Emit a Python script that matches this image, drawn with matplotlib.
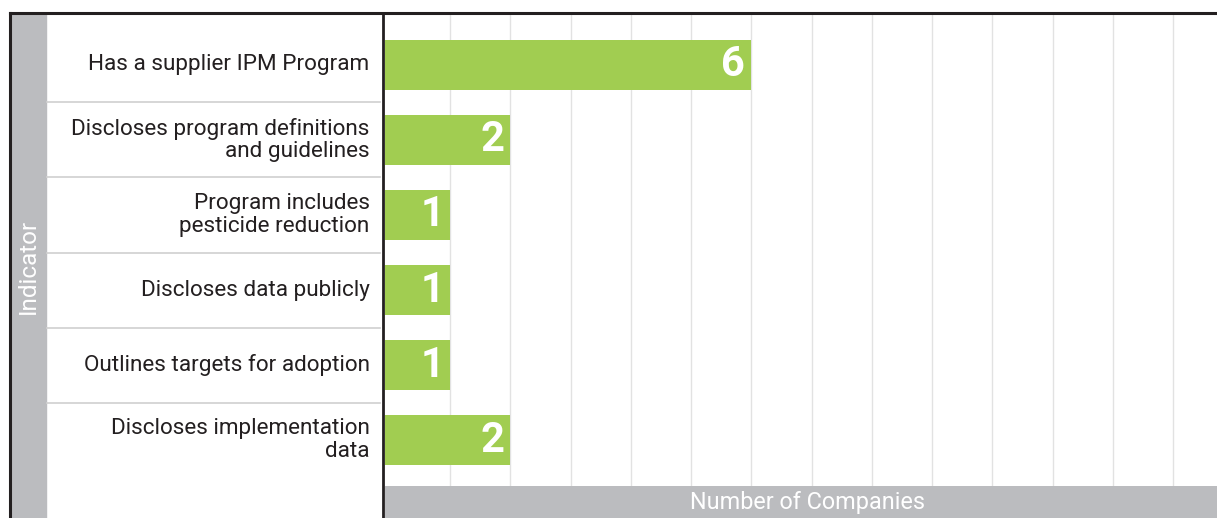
import matplotlib.pyplot as plt
from matplotlib.lines import Line2D
from matplotlib.patches import Rectangle

# data
indicators = ["Has a supplier IPM Program",
              "Discloses program definitions\nand guidelines",
              "Program includes\npesticide reduction",
              "Discloses data publicly",
              "Outlines targets for adoption",
              "Discloses implementation\ndata"]
companies = [6, 2, 1, 1, 1, 2]

green = "#A1CD51"
grey = "#BBBCBF"
dark = "#231F20"

W, H = 1217, 518
fig = plt.figure(figsize=(W / 100, H / 100), dpi=100)
plt.rcParams['font.family'] = ['Roboto', 'DejaVu Sans']

top_px, bot_px = 13, 486
ylim = (5.613, -0.693)
xmin = -0.08

#bars
ax = fig.add_axes([385 / W, (H - bot_px) / H, (W - 385) / W, (bot_px - top_px) / H])
ypos = range(len(indicators))
ax.barh(ypos, [c - xmin for c in companies], left=xmin, height=0.667, color=green, zorder=2)
for y, c in zip(ypos, companies):
    ax.text(c - 0.1, y, str(c), color="white", fontsize=30, fontweight="bold",
            ha="right", va="center", zorder=3)
ax.set_xlim(xmin, 13.73)
ax.set_ylim(*ylim)
for x in range(1, 14):
    ax.axvline(x, color="#E2E2E2", lw=1, zorder=1)
ax.set_xticks([])
ax.set_yticks([])
for s in ax.spines.values():
    s.set_visible(False)

#label panel
lab = fig.add_axes([46 / W, (H - bot_px) / H, (382 - 46) / W, (bot_px - top_px) / H])
lab.set_xlim(0, 1)
lab.set_ylim(*ylim)
for y, name in zip(ypos, indicators):
    lab.text(0.963, y, name, ha="right", va="center", fontsize=16.2,
             color=dark, linespacing=1.1)
for y in range(len(indicators) - 1):
    lab.axhline(y + 0.5, xmax=0.995, color="#CFCFCF", lw=1.2)
lab.axis("off")

# grey strips
fig.add_artist(Rectangle((11 / W, 0), 35 / W, (H - top_px) / H, color=grey, transform=fig.transFigure, zorder=0))
fig.add_artist(Rectangle((385 / W, 0), (W - 385) / W, (H - bot_px) / H, color=grey, transform=fig.transFigure, zorder=0))
fig.text(28 / W, 1 - 266 / H, "Indicator", rotation=90, color="white", fontsize=17.5,
         ha="center", va="center")
fig.text(807 / W, 1 - 503 / H, "Number of Companies", color="white", fontsize=16.8,
         ha="center", va="center")

# frame lines
fig.add_artist(Line2D([9.5 / W, 1], [1 - 13 / H, 1 - 13 / H], color=dark, lw=2.2))
fig.add_artist(Line2D([10 / W, 10 / W], [0, 1 - 13 / H], color=dark, lw=2.2))
fig.add_artist(Line2D([383 / W, 383 / W], [0, 1 - 13 / H], color=dark, lw=2))

plt.savefig("out.png", dpi=100)
